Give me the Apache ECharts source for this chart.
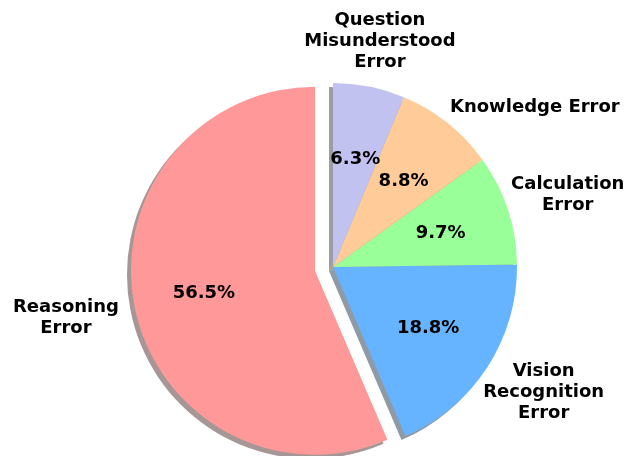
<!DOCTYPE html>
<html>
<head>
<meta charset="utf-8">
<script src="https://cdn.jsdelivr.net/npm/echarts@6/dist/echarts.min.js"></script>
<style>
  html, body { margin: 0; padding: 0; background: #fff; }
  #chart { width: 625px; height: 456px; }
</style>
</head>
<body>
<div id="chart"></div>
<script>
// data, counter-clockwise from 12 o'clock
const categories = [
  "Reasoning\nError",
  "Vision\nRecognition\nError",
  "Calculation\nError",
  "Knowledge Error",
  "Question\nMisunderstood\nError",
];
const shares = [56.5, 18.8, 9.7, 8.8, 6.3];
const exploded = [true, false, false, false, false];

const colors = ["#ff9999", "#66b3ff", "#99ff99", "#ffcc99", "#c2c2f0"];
// small hand tweaks so the labels sit where the original put them
const labelNudge = [[-10, -2], [6, -8], [3, 4], [50, 31], [-1, 14]];
const pctNudge = [[0, 0], [0, 0], [0, 2], [0, 3], [0, 4]];

const CX = 333, CY = 267, R = 184;
const font = { fontFamily: "DejaVu Sans", fontWeight: "bold", fontSize: 18, color: "#000" };

// matplotlib style shadow: 0.3 * face colour, half transparent
const shadowOf = (hex) => {
  const n = parseInt(hex.slice(1), 16);
  const r = Math.round(((n >> 16) & 255) * 0.3);
  const g = Math.round(((n >> 8) & 255) * 0.3);
  const b = Math.round((n & 255) * 0.3);
  return `rgba(${r},${g},${b},0.5)`;
};

const makeData = (fill, nudge) =>
  shares.map((v, i) => {
    const item = {
      name: categories[i],
      value: v,
      selected: exploded[i],
      itemStyle: { color: fill(i) },
    };
    if (nudge) {
      // the exploded slice is in "select" state, so it needs the offset there too
      item.label = { offset: nudge[i] };
      item.select = { label: { offset: nudge[i] } };
    }
    return item;
  });

const base = {
  type: "pie",
  startAngle: 90,
  clockwise: false,
  selectedMode: "multiple",
  selectedOffset: R * 0.1,
  avoidLabelOverlap: false,
  silent: true,
  emphasis: { disabled: true },
  labelLine: { show: false },
  animation: false,
};

const chart = echarts.init(document.getElementById("chart"), null, { renderer: "canvas" });
chart.setOption({
  backgroundColor: "#fff",
  series: [
    {
      ...base,
      name: "shadow",
      center: [CX - 4, CY + 4],
      radius: R,
      label: { show: false },
      data: makeData((i) => shadowOf(colors[i])),
    },
    {
      ...base,
      name: "pie",
      center: [CX, CY],
      radius: R,
      label: { show: false },
      data: makeData((i) => colors[i]),
    },
    {
      // percentages at 0.6 r
      ...base,
      name: "pct",
      center: [CX, CY],
      radius: [0, R * 1.2],
      label: {
        show: true,
        position: "inside",
        formatter: (p) => p.value.toFixed(1) + "%",
        ...font,
      },
      data: makeData(() => "rgba(0,0,0,0)", pctNudge),
    },
    {
      // category names outside the pie
      ...base,
      name: "names",
      center: [CX, CY],
      radius: [0, 482],
      label: {
        show: true,
        position: "inside",
        formatter: "{b}",
        lineHeight: 21,
        align: "center",
        ...font,
      },
      data: makeData(() => "rgba(0,0,0,0)", labelNudge),
    },
  ],
});
</script>
</body>
</html>
